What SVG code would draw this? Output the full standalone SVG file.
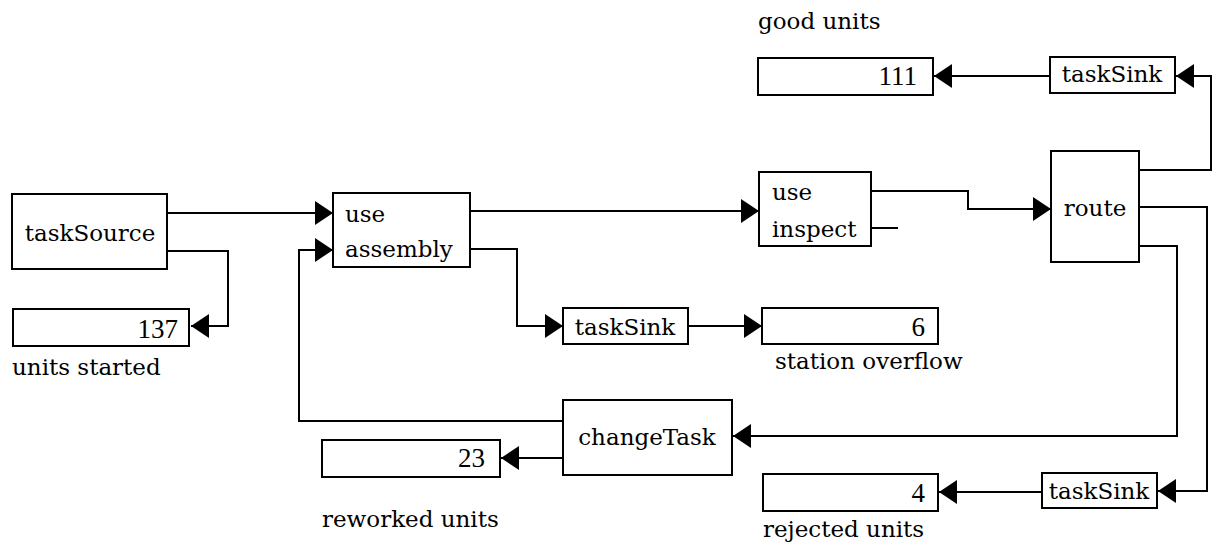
<svg xmlns="http://www.w3.org/2000/svg" width="1212" height="549" viewBox="0 0 1212 549">
<defs>
<marker id="arr" viewBox="0 0 18 24" refX="18" refY="12" markerWidth="18" markerHeight="24" markerUnits="userSpaceOnUse" orient="auto">
<path d="M0,0 L18,12 L0,24 z" fill="#000"/>
</marker>
<style>
.box{fill:#fff;stroke:#000;stroke-width:2}
.t{font-family:"DejaVu Serif","Liberation Serif",serif;font-size:23px;fill:#000}
.n{font-family:"Liberation Serif","DejaVu Serif",serif;font-size:27px;fill:#000;text-anchor:end}
.c{text-anchor:middle}
.ln{fill:none;stroke:#000;stroke-width:2}
.ar{marker-end:url(#arr)}
</style>
</defs>
<rect width="1212" height="549" fill="#fff"/>
<g id="connectors">
<path class="ln ar" d="M167,213 H333"/>
<path class="ln ar" d="M167,251 H228 V326 H191"/>
<path class="ln ar" d="M470,211 H759"/>
<path class="ln ar" d="M470,249 H517 V326 H563"/>
<path class="ln ar" d="M688,326 H762"/>
<path class="ln ar" d="M871,191 H968 V209 H1051"/>
<path class="ln" d="M871,228 H898"/>
<path class="ln ar" d="M1139,170 H1211 V76 H1176"/>
<path class="ln ar" d="M1139,207 H1207 V491 H1158"/>
<path class="ln ar" d="M1139,246 H1177 V436 H733"/>
<path class="ln ar" d="M563,421 H299 V250 H333"/>
<path class="ln ar" d="M563,458 H501"/>
<path class="ln ar" d="M1050,76 H934"/>
<path class="ln ar" d="M1042,492 H939"/>
</g>
<g id="taskSource">
<rect class="box" x="12" y="194" width="155" height="75"/>
<text class="t c" x="90" y="241">taskSource</text>
</g>
<g id="unitsStarted">
<rect class="box" x="13" y="309" width="176" height="37"/>
<text class="n" x="178" y="338">137</text>
<text class="t" x="12" y="375">units started</text>
</g>
<g id="useAssembly">
<rect class="box" x="333" y="193" width="137" height="74"/>
<text class="t" x="345" y="222">use</text>
<text class="t" x="345" y="257">assembly</text>
</g>
<g id="taskSinkOverflow">
<rect class="box" x="563" y="308" width="125" height="36"/>
<text class="t c" x="625" y="335">taskSink</text>
</g>
<g id="stationOverflow">
<rect class="box" x="762" y="308" width="176" height="36"/>
<text class="n" x="925" y="336">6</text>
<text class="t" x="775" y="369">station overflow</text>
</g>
<g id="useInspect">
<rect class="box" x="759" y="172" width="112" height="74"/>
<text class="t" x="772" y="200">use</text>
<text class="t" x="772" y="237">inspect</text>
</g>
<g id="route">
<rect class="box" x="1051" y="151" width="88" height="111"/>
<text class="t c" x="1095" y="216">route</text>
</g>
<g id="taskSinkGood">
<rect class="box" x="1050" y="57" width="125" height="36"/>
<text class="t c" x="1112" y="82">taskSink</text>
</g>
<g id="goodUnits">
<text class="t" x="758" y="29">good units</text>
<rect class="box" x="758" y="58" width="175" height="37"/>
<text class="n" x="917" y="85">111</text>
</g>
<g id="changeTask">
<rect class="box" x="563" y="400" width="169" height="75"/>
<text class="t c" x="647" y="445">changeTask</text>
</g>
<g id="reworkedUnits">
<rect class="box" x="322" y="440" width="178" height="37"/>
<text class="n" x="485" y="467">23</text>
<text class="t" x="322" y="527">reworked units</text>
</g>
<g id="taskSinkRejected">
<rect class="box" x="1042" y="473" width="115" height="35"/>
<text class="t c" x="1099" y="499">taskSink</text>
</g>
<g id="rejectedUnits">
<rect class="box" x="763" y="474" width="175" height="37"/>
<text class="n" x="925" y="502">4</text>
<text class="t" x="763" y="537">rejected units</text>
</g>
</svg>
